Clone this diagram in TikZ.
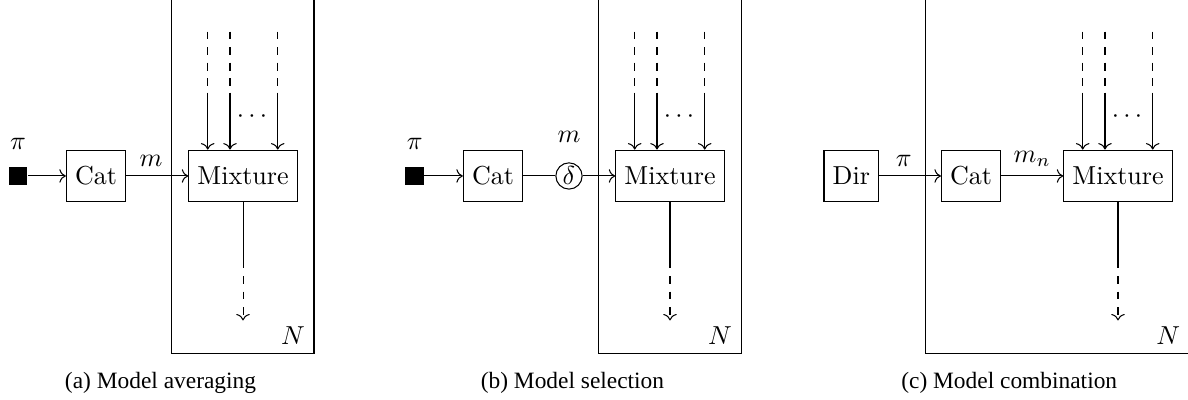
\documentclass[tikz,border=0pt]{standalone}
\usepackage{amsmath,amssymb}
\usepackage{fontspec}
\newfontfamily\capfont{Liberation Serif}
\usepackage{tikz}
\usetikzlibrary{arrows.meta,positioning,calc}

\begin{document}
\begin{tikzpicture}[
    box/.style={draw, rectangle, minimum height=0.7cm},
    factor/.style={fill=black, rectangle, inner sep=0pt, minimum size=0.25cm},
    detnode/.style={draw, circle, inner sep=0pt, minimum size=0.355cm},
    caption/.style={font=\capfont\small}]
  \clip (0,-3.027) rectangle (16.054,2.378);

  % (a) model averaging
  \node[factor, label={[label distance=3pt]above:$\pi$}] (pia) at (0.243,0) {};
  \node[box] (cata) at (1.297,0) {Cat};
  \node[box] (mixa) at (3.284,0) {Mixture};
  \draw (2.32,2.6) rectangle (4.243,-2.405) coordinate (platea);
  \node[above left] (Na) at (platea) {$N$};
  \draw[->] (pia) -- (cata);
  \draw[->] (cata) -- node[above, pos=0.4] (ma) {$m$} (mixa);
  \foreach \dx in {-0.477,-0.176,0.469} {
    \draw[dashed] ($(mixa.north)+(\dx,1.595)$) -- ($(mixa.north)+(\dx,0.77)$);
    \draw[->] ($(mixa.north)+(\dx,0.77)$) -- ($(mixa.north)+(\dx,0)$);
  }
  \node (dotsa) at ($(mixa)+(0.15,0.797)$) {$\cdots$};
  \draw (mixa.south) -- ($(mixa.south)+(0,-0.784)$) coordinate (outa);
  \draw[dashed, ->] (outa) -- ($(outa)+(0,-0.811)$);
  \node[caption] (capa) at (2.169,-2.797) {(a) Model averaging};

  % (b) model selection
  \node[factor, label={[label distance=3pt]above:$\pi$}] (pib) at (5.604,0) {};
  \node[box] (catb) at (6.662,0) {Cat};
  \node[detnode, label={[label distance=4.2pt]above:$m$}] (delta) at (7.689,0) {$\delta$};
  \node[box] (mixb) at (9.054,0) {Mixture};
  \draw (8.09,2.6) rectangle (10.014,-2.405) coordinate (plateb);
  \node[above left] (Nb) at (plateb) {$N$};
  \draw[->] (pib) -- (catb);
  \draw (catb) -- (delta);
  \draw[->] (delta) -- (mixb);
  \foreach \dx in {-0.477,-0.176,0.469} {
    \draw[dashed] ($(mixb.north)+(\dx,1.595)$) -- ($(mixb.north)+(\dx,0.77)$);
    \draw[->] ($(mixb.north)+(\dx,0.77)$) -- ($(mixb.north)+(\dx,0)$);
  }
  \node (dotsb) at ($(mixb)+(0.15,0.797)$) {$\cdots$};
  \draw (mixb.south) -- ($(mixb.south)+(0,-0.784)$) coordinate (outb);
  \draw[dashed, ->] (outb) -- ($(outb)+(0,-0.811)$);
  \node[caption] (capb) at (7.736,-2.797) {(b) Model selection};

  % (c) model combination
  \node[box] (dir) at (11.504,0) {Dir};
  \node[box] (catc) at (13.122,0) {Cat};
  \node[box] (mixc) at (15.108,0) {Mixture};
  \draw (12.5,2.6) rectangle (16.08,-2.405) coordinate (platec);
  \node[above left] (Nc) at ($(platec)+(-0.01,0)$) {$N$};
  \draw[->] (dir) -- node[above, pos=0.4] (pic) {$\pi$} (catc);
  \draw[->] (catc) -- node[above] (mc) {$m_n$} (mixc);
  \foreach \dx in {-0.477,-0.176,0.469} {
    \draw[dashed] ($(mixc.north)+(\dx,1.595)$) -- ($(mixc.north)+(\dx,0.77)$);
    \draw[->] ($(mixc.north)+(\dx,0.77)$) -- ($(mixc.north)+(\dx,0)$);
  }
  \node (dotsc) at ($(mixc)+(0.15,0.797)$) {$\cdots$};
  \draw (mixc.south) -- ($(mixc.south)+(0,-0.784)$) coordinate (outc);
  \draw[dashed, ->] (outc) -- ($(outc)+(0,-0.811)$);
  \node[caption] (capc) at (13.638,-2.797) {(c) Model combination};
\end{tikzpicture}
\end{document}
